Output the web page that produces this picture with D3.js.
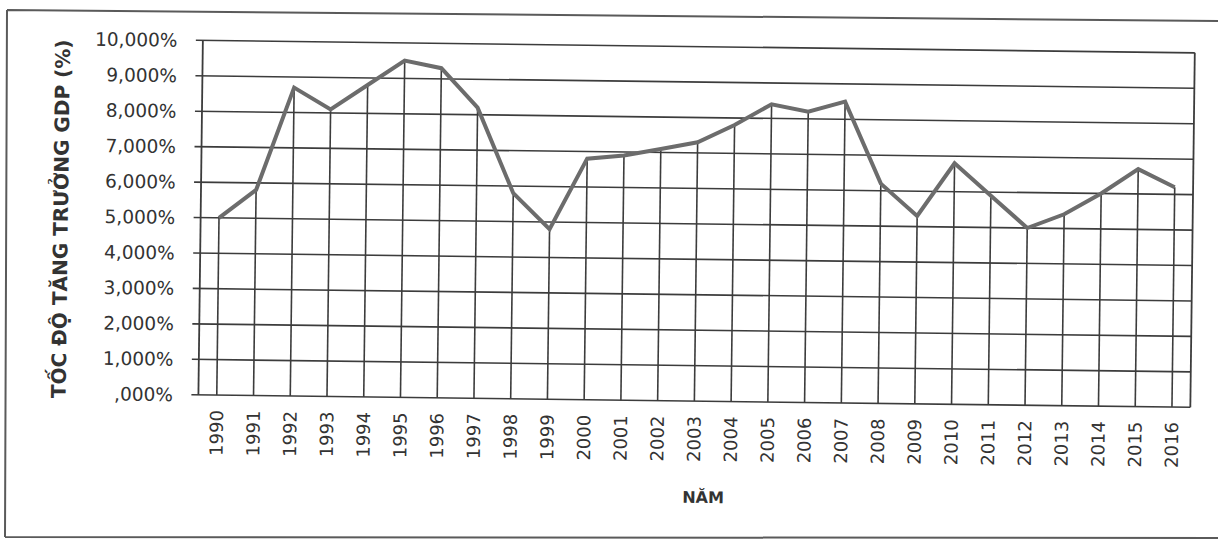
<!DOCTYPE html>
<html>
<head>
<meta charset="utf-8">
<script src="https://cdn.jsdelivr.net/npm/d3@7"></script>
<style>
  html, body { margin: 0; padding: 0; background: #ffffff; }
  svg { display: block; }
</style>
</head>
<body>
<svg id="chart" width="1218" height="542"></svg>
<script>
// GDP growth rate by year (%)
const years = [1990, 1991, 1992, 1993, 1994, 1995, 1996, 1997, 1998, 1999,
               2000, 2001, 2002, 2003, 2004, 2005, 2006, 2007, 2008, 2009,
               2010, 2011, 2012, 2013, 2014, 2015, 2016];
const growth = [5.0, 5.8, 8.7, 8.1, 8.8, 9.5, 9.3, 8.2, 5.8, 4.8,
                6.8, 6.9, 7.1, 7.3, 7.8, 8.4, 8.2, 8.5, 6.2, 5.3,
                6.8, 5.9, 5.0, 5.4, 6.0, 6.7, 6.2];
const yTicks = [0, 1, 2, 3, 4, 5, 6, 7, 8, 9, 10];
const yTitle = "TỐC ĐỘ TĂNG TRƯỞNG GDP (%)";
const xTitle = "NĂM";

const plot = { left: 200, right: 1192, top: 45.5, bottom: 400 };
const ink = "#3c3c3c";

const svg = d3.select("#chart");

// outer frame of the figure
svg.append("path")
  .attr("d", "M7,10 L1218,21 M7,10 L5,537 M5,537 L1218,538")
  .attr("fill", "none")
  .attr("stroke", "#5a5a5a")
  .attr("stroke-width", 2);

// the chart sits slightly tilted on the page
const g = svg.append("g").attr("transform", "rotate(0.72, 609, 271)");

const x = d3.scalePoint()
  .domain(years)
  .range([plot.left, plot.right])
  .padding(0.5);

const y = d3.scaleLinear()
  .domain([0, 10])
  .range([plot.bottom, plot.top]);

const dec = d3.formatLocale({ decimal: ",", thousands: ".", grouping: [3], currency: ["", ""] }).format(".3f");
const pct = d => dec(d).replace(/^0(?=,)/, "") + "%";

// horizontal gridlines with outside tick marks
g.append("g")
  .selectAll("line")
  .data(yTicks)
  .join("line")
  .attr("x1", plot.left - 7)
  .attr("x2", plot.right)
  .attr("y1", d => y(d))
  .attr("y2", d => y(d))
  .attr("stroke", ink)
  .attr("stroke-width", 1.6);

// y axis labels
g.append("g")
  .selectAll("text")
  .data(yTicks)
  .join("text")
  .attr("x", plot.left - 25.5)
  .attr("y", d => y(d))
  .attr("dy", "0.36em")
  .attr("text-anchor", "end")
  .attr("font-family", "DejaVu Sans, sans-serif")
  .attr("font-size", 18.5)
  .attr("fill", "#333")
  .text(pct);

// left axis and right frame edge
g.append("line")
  .attr("x1", plot.left).attr("x2", plot.left)
  .attr("y1", plot.top).attr("y2", plot.bottom)
  .attr("stroke", ink).attr("stroke-width", 1.8);
g.append("line")
  .attr("x1", plot.right).attr("x2", plot.right)
  .attr("y1", plot.top).attr("y2", plot.bottom)
  .attr("stroke", ink).attr("stroke-width", 1.8);

// drop lines from each point to the axis
g.append("g")
  .selectAll("line")
  .data(years)
  .join("line")
  .attr("x1", d => x(d))
  .attr("x2", d => x(d))
  .attr("y1", (d, i) => y(growth[i]))
  .attr("y2", y(0))
  .attr("stroke", ink)
  .attr("stroke-width", 1.6);

// growth line
g.append("path")
  .datum(years)
  .attr("fill", "none")
  .attr("stroke", "#6c6c6c")
  .attr("stroke-width", 4)
  .attr("stroke-linejoin", "miter")
  .attr("d", d3.line().x(d => x(d)).y((d, i) => y(growth[i])));

// year labels, rotated
g.append("g")
  .selectAll("text")
  .data(years)
  .join("text")
  .attr("transform", d => `translate(${x(d)},${plot.bottom + 15}) rotate(-90)`)
  .attr("dy", "0.36em")
  .attr("text-anchor", "end")
  .attr("font-family", "DejaVu Sans, sans-serif")
  .attr("font-size", 18)
  .attr("fill", "#333")
  .text(d => d);

// axis titles
g.append("text")
  .attr("x", 706)
  .attr("y", 496)
  .attr("dy", "0.36em")
  .attr("text-anchor", "middle")
  .attr("font-family", "DejaVu Sans, sans-serif")
  .attr("font-weight", "bold")
  .attr("font-size", 16)
  .attr("fill", "#333")
  .text(xTitle);

g.append("text")
  .attr("transform", `translate(60, ${(plot.top + plot.bottom) / 2 + 3}) rotate(-90)`)
  .attr("dy", "0.36em")
  .attr("text-anchor", "middle")
  .attr("font-family", "DejaVu Sans, sans-serif")
  .attr("font-weight", "bold")
  .attr("font-size", 20)
  .attr("fill", "#333")
  .text(yTitle);
</script>
</body>
</html>
